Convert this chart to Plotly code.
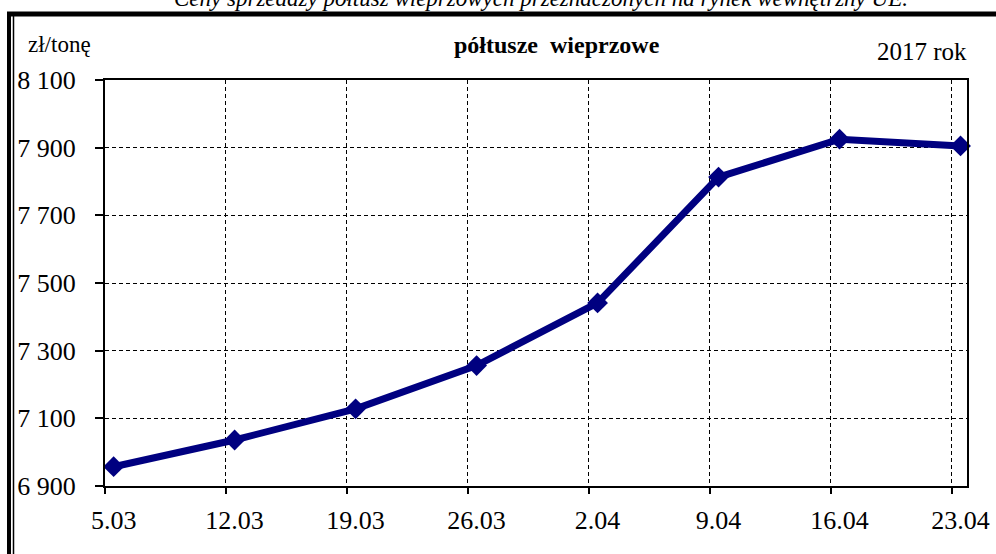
import plotly.graph_objects as go

# ---- data ----
week_labels = ["5.03", "12.03", "19.03", "26.03", "2.04", "9.04", "16.04", "23.04"]
week_start = "2017-03-05"
# observation timestamps (points sit slightly right of the week gridlines)
obs_dates = ["2017-03-05 12:00", "2017-03-12 12:00", "2017-03-19 12:00", "2017-03-26 12:00",
             "2017-04-02 12:00", "2017-04-09 12:00", "2017-04-16 12:00", "2017-04-23 12:00"]
prices = [6957, 7036, 7128, 7256, 7441, 7813, 7925, 7905]
y_ticks = [6900, 7100, 7300, 7500, 7700, 7900, 8100]
y_tick_text = ["6 900", "7 100", "7 300", "7 500", "7 700", "7 900", "8 100"]

W, H = 996, 554
L, R, T, B = 105, 29, 80, 68
PW, PH = W - L - R, H - T - B
WEEK_MS = 7 * 24 * 3600 * 1000


def px(xp):
    return (xp - L) / PW


def py(yp):
    return (H - B - yp) / PH


FONT = "Liberation Serif, Times New Roman, serif"
NAVY = "#000080"

fig = go.Figure()
fig.add_trace(go.Scatter(
    x=obs_dates, y=prices, mode="lines+markers",
    line=dict(color=NAVY, width=7),
    marker=dict(symbol="diamond", size=16, color=NAVY),
    showlegend=False, cliponaxis=False,
))

fig.update_layout(
    width=W, height=H,
    margin=dict(l=L, r=R, t=T, b=B, autoexpand=False),
    paper_bgcolor="white", plot_bgcolor="white",
    font=dict(family=FONT, color="black"),
    xaxis=dict(
        type="date", automargin=False,
        range=["2017-03-05", "2017-04-23 21:00"],
        tickvals=obs_dates, ticktext=week_labels,
        tickfont=dict(size=26, family=FONT, color="black"),
        ticks="", showgrid=False,
        showline=True, linecolor="black", linewidth=2, mirror=True,
        zeroline=False, ticklabelstandoff=10,
        minor=dict(tick0=week_start, dtick=WEEK_MS, ticks="outside", ticklen=6,
                   tickwidth=2, tickcolor="black", showgrid=True, gridcolor="black",
                   gridwidth=1, griddash="4px,3px"),
    ),
    yaxis=dict(
        range=[6900, 8100], automargin=False,
        tickvals=y_ticks, ticktext=y_tick_text,
        tickfont=dict(size=26, family=FONT, color="black"),
        ticks="outside", ticklen=8, tickwidth=2, tickcolor="black",
        showline=True, linecolor="black", linewidth=2, mirror=True,
        showgrid=True, gridcolor="black", gridwidth=1, griddash="4px,3px",
        zeroline=False, ticklabelstandoff=14,
    ),
    shapes=[
        dict(type="line", xref="paper", yref="paper", x0=px(7), x1=px(1000), y0=py(14), y1=py(14),
             line=dict(color="black", width=5)),
        dict(type="line", xref="paper", yref="paper", x0=px(9), x1=px(9), y0=py(12), y1=py(560),
             line=dict(color="black", width=4)),
        dict(type="line", xref="paper", yref="paper", x0=px(13.5), x1=px(13.5), y0=py(16), y1=py(560),
             line=dict(color="black", width=1.5)),
    ],
    annotations=[
        dict(text="Ceny sprzedaży półtusz wieprzowych przeznaczonych na rynek wewnętrzny UE.",
             xref="paper", yref="paper", x=px(910), y=py(13), xanchor="right", yanchor="bottom",
             showarrow=False, font=dict(size=23, family=FONT, color="black", style="italic"),
             align="right"),
        dict(text="zł/tonę", xref="paper", yref="paper", x=px(26), y=py(45),
             xanchor="left", yanchor="middle", showarrow=False,
             font=dict(size=23, family=FONT, color="black")),
        dict(text="<b>półtusze  wieprzowe</b>", xref="paper", yref="paper", x=px(557), y=py(45),
             xanchor="center", yanchor="middle", showarrow=False,
             font=dict(size=24, family=FONT, color="black")),
        dict(text="2017 rok", xref="paper", yref="paper", x=px(969), y=py(51),
             xanchor="right", yanchor="middle", showarrow=False,
             font=dict(size=25, family=FONT, color="black")),
    ],
)

fig.write_html("out.html", config={"displayModeBar": False},
               post_script="document.body.style.margin='0';")
